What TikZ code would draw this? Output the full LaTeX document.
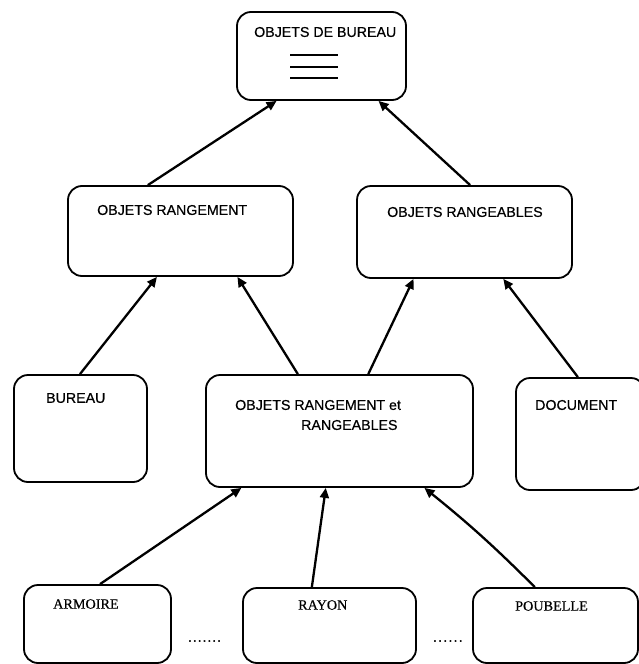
\documentclass[tikz,border=0pt]{standalone}
\usepackage{fontspec}
\setmainfont[FakeBold=0.5]{Liberation Serif}
\newfontfamily\sansfont[FakeBold=0.5]{Liberation Sans}
\usetikzlibrary{arrows.meta,calc}

\tikzset{
  box/.style={draw, line width=1.8pt, rounded corners=14pt, inner sep=0pt},
  slabel/.style={font=\sansfont\fontsize{14.2}{16}\selectfont, inner sep=0pt, anchor=west},
  rlabel/.style={font=\fontsize{14.2}{16}\selectfont, inner sep=0pt, anchor=west},
  arr/.style={line width=2.3pt, -{Triangle[length=10pt,width=9pt]}},
}

% box from (x1,y1) to (x2,y2), y measured downwards
\newcommand\mkbox[5]{%
  \node[box, minimum width={(#4)-(#2)}, minimum height={(#5)-(#3)}]
    (#1) at ({((#2)+(#4))/2},{((#3)+(#5))/2}) {};}

\begin{document}
\begin{tikzpicture}[x=1pt,y=-1pt]
\useasboundingbox (0,0) rectangle (639,664);

% boxes
\mkbox{top}{237}{12}{406}{100}
\mkbox{rgt}{68}{186}{293}{276}
\mkbox{rgb}{357}{186}{572}{278}
\mkbox{bur}{14}{375}{147}{482}
\mkbox{mix}{206}{375}{473}{487}
\mkbox{doc}{516}{378}{645}{490}
\mkbox{arm}{24}{585}{171}{663}
\mkbox{ray}{243}{588}{416}{663}
\mkbox{pou}{473}{588}{638}{663}

% labels
\node[slabel] (ltop) at (254,32) {OBJETS DE BUREAU};
\node[slabel] (lrgt) at (97,210) {OBJETS RANGEMENT};
\node[slabel] (lrgb) at (387,212) {OBJETS RANGEABLES};
\node[slabel] (lbur) at (46,398) {BUREAU};
\node[slabel] (lmix1) at (235,405) {OBJETS RANGEMENT et};
\node[slabel] (lmix2) at (301,425) {RANGEABLES};
\node[slabel] (ldoc) at (535,405) {DOCUMENT};
\node[rlabel] (larm) at (53,604) {ARMOIRE};
\node[rlabel] (lray) at (298,605) {RAYON};
\node[rlabel] (lpou) at (515,606) {POUBELLE};

% ellipses between the lower boxes
\node[rlabel] (dots1) at (188,641) {.\kern1.3pt.\kern1.3pt.\kern1.3pt.\kern1.3pt.\kern1.3pt.\kern1.3pt.};
\node[rlabel] (dots2) at (433,641) {.\kern1.6pt.\kern1.6pt.\kern1.6pt.\kern1.6pt.\kern1.6pt.};

% attribute lines in the root box
\draw[line width=1.6pt] (290,55) -- (338,55);
\draw[line width=1.6pt] (290,67) -- (338,67);
\draw[line width=1.6pt] (290,78) -- (338,78);

% inheritance arrows
\draw[arr] ($(rgt.north west)!0.356!(rgt.north east)$) -- ($(top.south west)!0.237!(top.south east)$);
\draw[arr] ($(rgb.north west)!0.526!(rgb.north east)$) -- ($(top.south west)!0.834!(top.south east)$);
\draw[arr] ($(bur.north west)!0.496!(bur.north east)$) -- ($(rgt.south west)!0.396!(rgt.south east)$);
\draw[arr] ($(mix.north west)!0.345!(mix.north east)$) -- ($(rgt.south west)!0.751!(rgt.south east)$);
\draw[arr] ($(mix.north west)!0.607!(mix.north east)$) -- ($(rgb.south west)!0.265!(rgb.south east)$);
\draw[arr] ($(doc.north west)!0.48!(doc.north east)$) -- ($(rgb.south west)!0.679!(rgb.south east)$);
\draw[arr] ($(arm.north west)!0.517!(arm.north east)$) -- ($(mix.south west)!0.135!(mix.south east)$);
\draw[arr] ($(ray.north west)!0.399!(ray.north east)$) -- ($(mix.south west)!0.449!(mix.south east)$);
\draw[arr] ($(pou.north west)!0.376!(pou.north east)$) to[bend right=3] ($(mix.south west)!0.816!(mix.south east)$);
\end{tikzpicture}
\end{document}
